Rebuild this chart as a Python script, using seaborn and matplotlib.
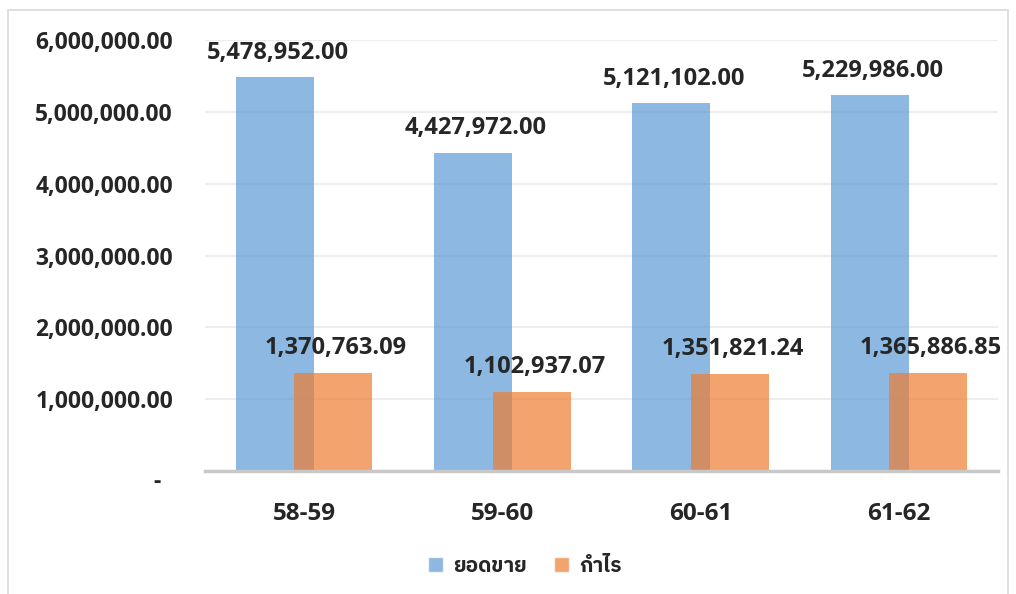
import matplotlib
matplotlib.use("Agg")
import matplotlib.pyplot as plt
from matplotlib.patches import Rectangle
from matplotlib.ticker import FuncFormatter
from matplotlib.transforms import ScaledTranslation
import pandas as pd
import seaborn as sns

periods = ["58-59", "59-60", "60-61", "61-62"]
sales = [5478952.00, 4427972.00, 5121102.00, 5229986.00]
profit = [1370763.09, 1102937.07, 1351821.24, 1365886.85]
series_names = ["ยอดขาย", "กำไร"]

df = pd.DataFrame({
    "period": periods * 2,
    "value": sales + profit,
    "series": [series_names[0]] * 4 + [series_names[1]] * 4,
})

sns.set_theme(style="white")
plt.rcParams['font.family'] = ['Open Sans', 'IBM Plex Sans Thai', 'DejaVu Sans']
plt.rcParams['font.weight'] = 'bold'
text_color = '#262626'

fig = plt.figure(figsize=(10.16, 5.94), dpi=100)
ax = fig.add_axes([205 / 1016, 1 - 471 / 594, 793 / 1016, 431 / 594])

sns.barplot(data=df, x="period", y="value", hue="series", dodge=True, width=0.59,
            palette=["#5B9BD5", "#ED7D31"], alpha=0.7, saturation=1, ax=ax, legend=True)

# widen the dodged bars so they overlap like the original
bar_w = 0.394
for p in ax.patches[:8]:
    c = p.get_x() + p.get_width() / 2
    p.set_width(bar_w)
    p.set_x(c - bar_w / 2)
    p.set_edgecolor('none')

vals = sales + profit
for p, v in zip(ax.patches[:8], vals):
    ax.annotate(f"{v:,.2f}", (p.get_x() + p.get_width() / 2, p.get_height()),
                xytext=(2, 9), textcoords="offset points", ha="center", va="bottom",
                fontsize=17, fontweight="bold", color=text_color)

ax.set_xlim(-0.5, 3.5)
ax.set_ylim(0, 6000000)
ax.set_yticks(range(0, 6000001, 1000000))
ax.yaxis.set_major_formatter(FuncFormatter(lambda v, pos: "-  " if v == 0 else f"{v:,.2f}"))
ax.grid(axis="y", color="#EDEDED", linewidth=1.5)
ax.set_axisbelow(True)
for s in ["left", "right", "top"]:
    ax.spines[s].set_visible(False)
ax.spines["bottom"].set_color("#C8C8C8")
ax.spines["bottom"].set_linewidth(2.5)
ax.tick_params(axis="y", length=0, pad=23, labelsize=16.5, labelcolor=text_color)
ax.tick_params(axis="x", length=0, pad=22, labelsize=17.5, labelcolor=text_color)
for t in ax.get_xticklabels() + ax.get_yticklabels():
    t.set_fontweight("bold")
ax.set_xlabel("")
ax.set_ylabel("")

# the zero label sits a bit lower, like the accounting format in the original
zero_lbl = ax.yaxis.get_major_ticks()[0].label1
zero_lbl.set_transform(zero_lbl.get_transform() + ScaledTranslation(0, -0.08, fig.dpi_scale_trans))

handles, labels = ax.get_legend_handles_labels()
ax.get_legend().remove()
leg = fig.legend(handles, labels, loc="center", bbox_to_anchor=(525 / 1016, 1 - 566 / 594),
                 ncol=2, frameon=False, handlelength=0.7, handleheight=0.7,
                 handletextpad=0.5, columnspacing=1.3,
                 prop={"size": 15, "weight": "bold"})
for t in leg.get_texts():
    t.set_color(text_color)

fig.patches.append(Rectangle((8 / 1016, -0.02), 1000 / 1016, 1 - 10 / 594 + 0.02,
                             transform=fig.transFigure, fill=False,
                             edgecolor="#D9D9D9", linewidth=1.2))

fig.savefig("out.png", dpi=100)
